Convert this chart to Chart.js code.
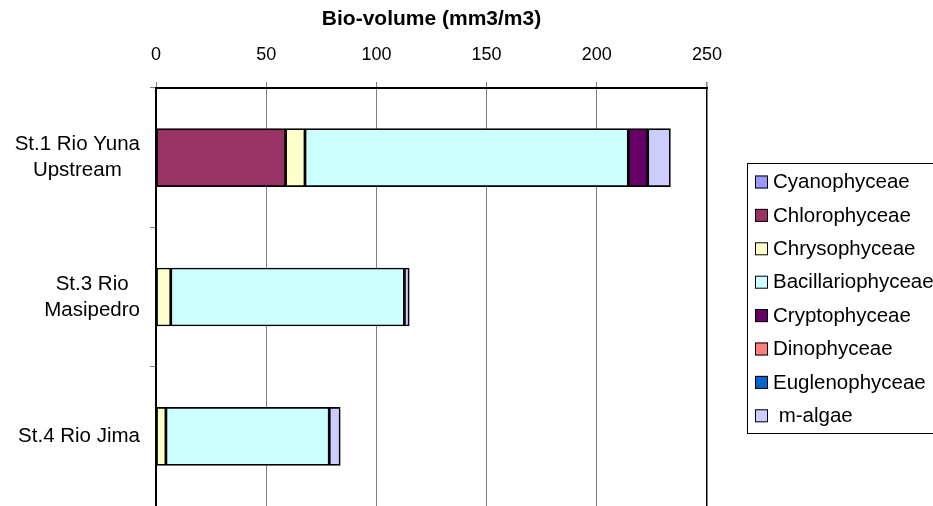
<!DOCTYPE html>
<html>
<head>
<meta charset="utf-8">
<script src="https://cdn.jsdelivr.net/npm/chart.js@4/dist/chart.umd.min.js"></script>
<style>
  html, body { margin: 0; padding: 0; background: #ffffff; }
  #wrap { width: 933px; height: 506px; position: relative; }
</style>
</head>
<body>
<div id="wrap"><canvas id="c" width="933" height="506"></canvas></div>
<script>
// ---- data ----
const categories = [["St.1 Rio Yuna", "Upstream"], ["St.3 Rio", "Masipedro"], ["St.4 Rio Jima"]];
const cyanophyceae      = [0, 0, 0];
const chlorophyceae     = [58.8, 0, 0];
const chrysophyceae     = [8.8, 6.7, 4.5];
const bacillariophyceae = [146.7, 106.0, 74.1];
const cryptophyceae     = [8.8, 0, 0];
const dinophyceae       = [0, 0, 0];
const euglenophyceae    = [0, 0, 0];
const mAlgae            = [10.3, 2.2, 5.0];
const xTicks = [0, 50, 100, 150, 200, 250];
const axisTitle = "Bio-volume (mm3/m3)";

const FONT = "'Liberation Sans', Arial, sans-serif";

const series = [
  { label: "Cyanophyceae", data: cyanophyceae, color: "#9999FF" },
  { label: "Chlorophyceae", data: chlorophyceae, color: "#993366" },
  { label: "Chrysophyceae", data: chrysophyceae, color: "#FFFFCC" },
  { label: "Bacillariophyceae", data: bacillariophyceae, color: "#CCFFFF" },
  { label: "Cryptophyceae", data: cryptophyceae, color: "#660066" },
  { label: "Dinophyceae", data: dinophyceae, color: "#FF8080" },
  { label: "Euglenophyceae", data: euglenophyceae, color: "#0066CC" },
  { label: " m-algae", data: mAlgae, color: "#CCCCFF" }
];

// custom y labels: block right-aligned to axis, lines centered within block
const yLabelPlugin = {
  id: 'yLabels',
  afterDraw(chart) {
    const ctx = chart.ctx;
    const y = chart.scales.y;
    ctx.save();
    ctx.font = "20.5px " + FONT;
    ctx.fillStyle = "#000";
    ctx.textBaseline = "middle";
    ctx.textAlign = "center";
    const lh = 26;
    categories.forEach((lines, i) => {
      const cy = y.getPixelForValue(i);
      const widest = Math.max(...lines.map(l => ctx.measureText(l).width));
      const right = chart.chartArea.left - 16;
      const cx = right - widest / 2;
      const top = cy - (lines.length - 1) * lh / 2;
      lines.forEach((l, k) => ctx.fillText(l, cx, top + k * lh));
    });
    ctx.restore();
  }
};

// legend with border
const legendPlugin = {
  id: 'boxLegend',
  afterDraw(chart) {
    const ctx = chart.ctx;
    ctx.save();
    const bx = 747, by = 163, bw = 210, bh = 270;
    ctx.strokeStyle = "#000";
    ctx.lineWidth = 1;
    ctx.strokeRect(bx + 0.5, by + 0.5, bw, bh);
    ctx.font = "20.5px " + FONT;
    ctx.textBaseline = "middle";
    ctx.textAlign = "left";
    chart.data.datasets.forEach((ds, i) => {
      const cy = 181.5 + i * 33.4;
      ctx.fillStyle = ds.backgroundColor;
      ctx.fillRect(755, cy - 6, 13, 13);
      ctx.strokeStyle = "#000";
      ctx.lineWidth = 1;
      ctx.strokeRect(755.5, cy - 5.5, 12, 12);
      ctx.fillStyle = "#000";
      ctx.fillText(ds.label, 773, cy + 1);
    });
    ctx.restore();
  }
};

new Chart(document.getElementById('c'), {
  type: 'bar',
  data: {
    labels: categories,
    datasets: series.map(s => ({
      label: s.label,
      data: s.data,
      backgroundColor: s.color,
      borderColor: "#000000",
      borderWidth: 1.7,
      borderSkipped: false,
      barThickness: 58
    }))
  },
  options: {
    indexAxis: 'y',
    responsive: false,
    animation: false,
    devicePixelRatio: 1,
    layout: { padding: { left: 0, right: 226, top: 0, bottom: 0 } },
    plugins: { legend: { display: false }, tooltip: { enabled: false } },
    scales: {
      x: {
        position: 'top',
        stacked: true,
        min: 0, max: 250,
        afterBuildTicks: (scale) => { scale.ticks = xTicks.map(v => ({ value: v })); },
        afterFit: (scale) => { scale.height = 88; },
        ticks: { color: "#000", font: { family: FONT, size: 18 }, padding: 16, maxRotation: 0 },
        grid: {
          color: (c) => (c.tick && (c.tick.value === 250)) ? "#000" : "#808080",
          lineWidth: (c) => (c.tick && (c.tick.value === 250)) ? 1.5 : 1,
          tickLength: 6,
          tickColor: "#808080"
        },
        border: { color: "#000", width: 2 },
        title: {
          display: true, text: axisTitle, color: "#000",
          font: { family: FONT, size: 21, weight: 'bold' },
          padding: { top: 7, bottom: 0 }
        }
      },
      y: {
        stacked: true,
        afterFit: (scale) => { scale.width = 156; },
        ticks: { display: false },
        grid: { drawOnChartArea: false, tickLength: 6, color: "#808080", offset: true },
        border: { color: "#000", width: 2 }
      }
    }
  },
  plugins: [yLabelPlugin, legendPlugin]
});
</script>
</body>
</html>
